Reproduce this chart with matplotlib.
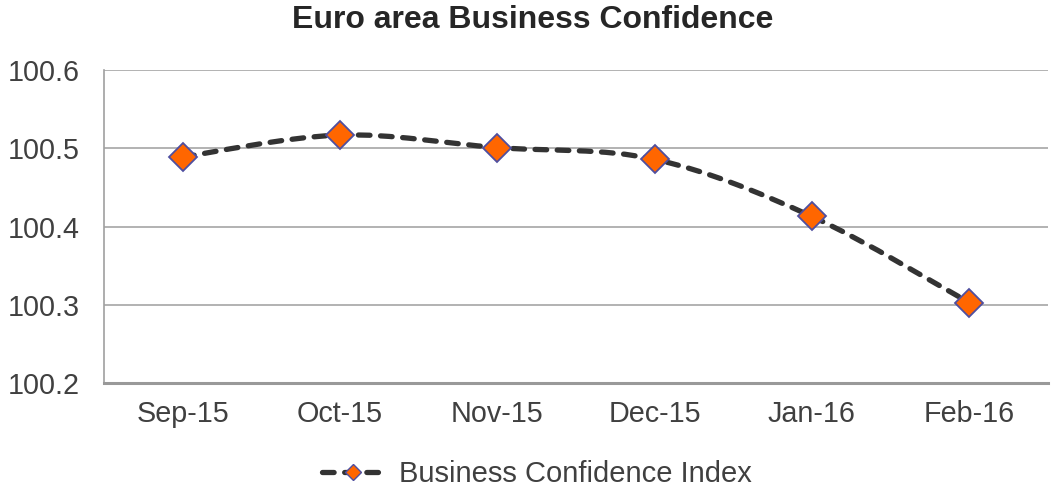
import matplotlib
matplotlib.use("Agg")
import matplotlib.pyplot as plt
from matplotlib.path import Path
from matplotlib.patches import PathPatch
from matplotlib.lines import Line2D

months = ["Sep-15", "Oct-15", "Nov-15", "Dec-15", "Jan-16", "Feb-16"]
confidence = [100.489, 100.517, 100.501, 100.486, 100.413, 100.303]
y_ticks = [100.2, 100.3, 100.4, 100.5, 100.6]

plt.rcParams["font.family"] = ["Liberation Sans", "DejaVu Sans"]
text_color = "#404040"
line_color = "#333333"
marker_face = "#ff6600"
marker_edge = "#4f4fa0"

fig = plt.figure(figsize=(10.51, 4.9), dpi=100)
ax = fig.add_axes([0.099, 0.218, 0.898, 0.639])

# smoothed line (Catmull-Rom converted to cubic bezier segments)
xs = list(range(len(months)))
pts = list(zip(xs, confidence))
verts = [pts[0]]
codes = [Path.MOVETO]
for i in range(len(pts) - 1):
    p0 = pts[i - 1] if i > 0 else pts[i]
    p1 = pts[i]
    p2 = pts[i + 1]
    p3 = pts[i + 2] if i + 2 < len(pts) else pts[i + 1]
    c1 = (p1[0] + (p2[0] - p0[0]) / 6, p1[1] + (p2[1] - p0[1]) / 6)
    c2 = (p2[0] - (p3[0] - p1[0]) / 6, p2[1] - (p3[1] - p1[1]) / 6)
    verts += [c1, c2, p2]
    codes += [Path.CURVE4] * 3
curve = PathPatch(Path(verts, codes), facecolor="none", edgecolor=line_color,
                  linewidth=3.8, linestyle=(0, (2.2, 2.0)), capstyle="round", zorder=3)
ax.add_patch(curve)

ax.plot(xs, confidence, linestyle="none", marker="D", markersize=14,
        markerfacecolor=marker_face, markeredgecolor=marker_edge, markeredgewidth=1.3, zorder=4)

ax.set_xlim(-0.5, len(months) - 0.5)
ax.set_ylim(100.2, 100.6)
ax.set_yticks(y_ticks)
ax.set_yticklabels([f"{v:.1f}" for v in y_ticks])
ax.set_xticks(xs)
ax.set_xticklabels(months)
ax.tick_params(axis="both", length=0, labelsize=20.7, labelcolor=text_color)
ax.tick_params(axis="y", pad=17.5)
ax.tick_params(axis="x", pad=12)

ax.grid(axis="y", color="#a6a6a6", linewidth=1.2)
ax.set_axisbelow(True)
ax.spines[["top", "right"]].set_visible(False)
ax.spines["left"].set_color("#a0a0a0")
ax.spines["left"].set_linewidth(1.2)
ax.spines["bottom"].set_color("#999999")
ax.spines["bottom"].set_linewidth(2.2)

fig.suptitle("Euro area Business Confidence", x=0.507, y=0.99, fontsize=23,
             fontweight="bold", color="#262626")

handle = Line2D([], [], color=line_color, linewidth=3.8, linestyle=(0, (2.2, 2.0)),
                dash_capstyle="round", marker="D", markersize=8.5,
                markerfacecolor=marker_face, markeredgecolor=marker_edge)
fig.legend([handle], ["Business Confidence Index"], loc="lower center",
           bbox_to_anchor=(0.511, -0.05), frameon=False, fontsize=21,
           labelcolor=text_color, handlelength=2.15, handletextpad=0.5)

fig.savefig("out.png", dpi=100)
